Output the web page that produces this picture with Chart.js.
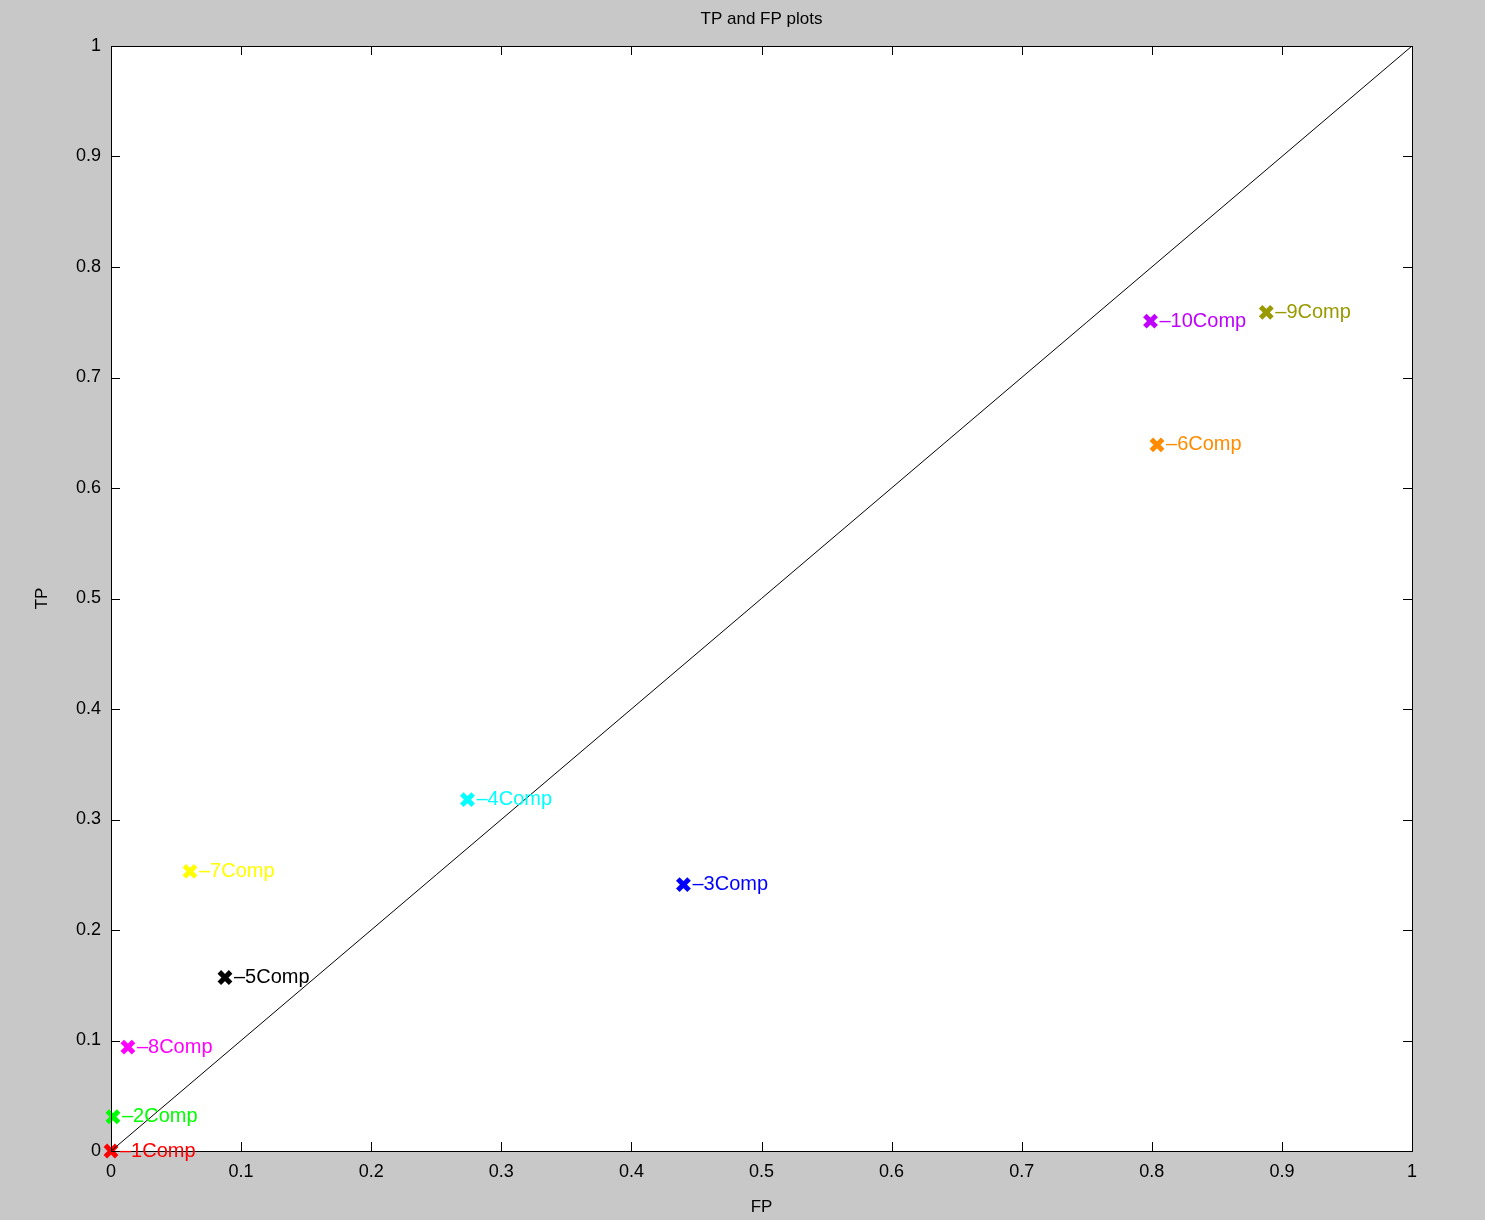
<!DOCTYPE html>
<html>
<head>
<meta charset="utf-8">
<script src="https://cdn.jsdelivr.net/npm/chart.js@4"></script>
<style>
  html, body { margin: 0; padding: 0; background: #c8c8c8; }
  #wrap { width: 1485px; height: 1220px; }
</style>
</head>
<body>
<div id="wrap"><canvas id="myChart"></canvas></div>
<script>
const labels = ['1Comp', '2Comp', '3Comp', '4Comp', '5Comp', '6Comp', '7Comp', '8Comp', '9Comp', '10Comp'];
const fpValues = [0, 0.0015, 0.440, 0.274, 0.0876, 0.804, 0.0607, 0.013, 0.888, 0.799];
const tpValues = [0, 0.031, 0.241, 0.318, 0.157, 0.639, 0.253, 0.094, 0.759, 0.751];
const colors = ['#ff0000', '#00ff00', '#0000ff', '#00ffff', '#000000', '#ff8c00', '#ffff00', '#ff00ff', '#999900', '#bf00ff'];
const tickValues = [0, 0.1, 0.2, 0.3, 0.4, 0.5, 0.6, 0.7, 0.8, 0.9, 1];

const FONT = '"Liberation Sans", Arial, sans-serif';

const matlabLook = {
  id: 'matlabLook',
  beforeDraw(chart) {
    const { ctx, chartArea: a } = chart;
    ctx.save();
    ctx.fillStyle = '#c8c8c8';
    ctx.fillRect(0, 0, chart.width, chart.height);
    ctx.fillStyle = '#ffffff';
    ctx.fillRect(a.left, a.top, a.right - a.left, a.bottom - a.top);
    ctx.restore();
  },
  afterDraw(chart) {
    const { ctx, chartArea: a, scales } = chart;
    ctx.save();
    // inward tick marks on all four sides
    ctx.strokeStyle = '#000';
    ctx.lineWidth = 1;
    ctx.beginPath();
    tickValues.forEach(v => {
      const x = Math.round(scales.x.getPixelForValue(v)) + 0.5;
      const y = Math.round(scales.y.getPixelForValue(v)) + 0.5;
      ctx.moveTo(x, a.bottom); ctx.lineTo(x, a.bottom - 9);
      ctx.moveTo(x, a.top); ctx.lineTo(x, a.top + 9);
      ctx.moveTo(a.left, y); ctx.lineTo(a.left + 9, y);
      ctx.moveTo(a.right, y); ctx.lineTo(a.right - 9, y);
    });
    ctx.stroke();
    ctx.strokeRect(a.left + 0.5, a.top + 0.5, a.right - a.left, a.bottom - a.top);

    // point labels
    ctx.font = '20px ' + FONT;
    ctx.textBaseline = 'middle';
    labels.forEach((lab, i) => {
      const x = scales.x.getPixelForValue(fpValues[i]);
      const y = scales.y.getPixelForValue(tpValues[i]);
      ctx.fillStyle = colors[i];
      ctx.fillText('\u2013' + lab, x + 9, y);
    });

    // titles
    ctx.fillStyle = '#000';
    ctx.font = '17px ' + FONT;
    ctx.textAlign = 'center';
    ctx.fillText('TP and FP plots', (a.left + a.right) / 2, 19);
    ctx.fillText('FP', (a.left + a.right) / 2, 1207);
    ctx.translate(42, (a.top + a.bottom) / 2);
    ctx.rotate(-Math.PI / 2);
    ctx.fillText('TP', 0, 0);
    ctx.restore();
  }
};

const ctx = document.getElementById('myChart');
const fmt = v => (v === 0 || v === 1) ? String(v) : v.toFixed(1);

new Chart(ctx, {
  type: 'scatter',
  data: {
    datasets: [
      {
        type: 'line',
        data: [{ x: 0, y: 0 }, { x: 1, y: 1 }],
        borderColor: '#000',
        borderWidth: 1,
        pointRadius: 0,
      },
      {
        data: fpValues.map((x, i) => ({ x, y: tpValues[i] })),
        clip: false,
        pointStyle: 'crossRot',
        pointRadius: 8,
        pointBorderWidth: 5,
        pointBorderColor: colors,
        pointBackgroundColor: colors,
      },
    ],
  },
  options: {
    responsive: true,
    maintainAspectRatio: false,
    animation: false,
    layout: { padding: { top: 46, right: 73, left: 0, bottom: 0 } },
    plugins: { legend: { display: false }, tooltip: { enabled: false } },
    scales: {
      x: {
        type: 'linear', min: 0, max: 1,
        afterFit: s => { s.height = 69; },
        afterBuildTicks: s => { s.ticks = tickValues.map(value => ({ value })); },
        grid: { display: false, drawTicks: false },
        border: { display: false },
        ticks: { color: '#000', padding: 10, font: { family: FONT, size: 18 }, maxRotation: 0, callback: fmt },
      },
      y: {
        type: 'linear', min: 0, max: 1,
        afterFit: s => { s.width = 111; },
        afterBuildTicks: s => { s.ticks = tickValues.map(value => ({ value })); },
        grid: { display: false, drawTicks: false },
        border: { display: false },
        ticks: { color: '#000', padding: 10, font: { family: FONT, size: 18 }, callback: fmt },
      },
    },
  },
  plugins: [matlabLook],
});
</script>
</body>
</html>
